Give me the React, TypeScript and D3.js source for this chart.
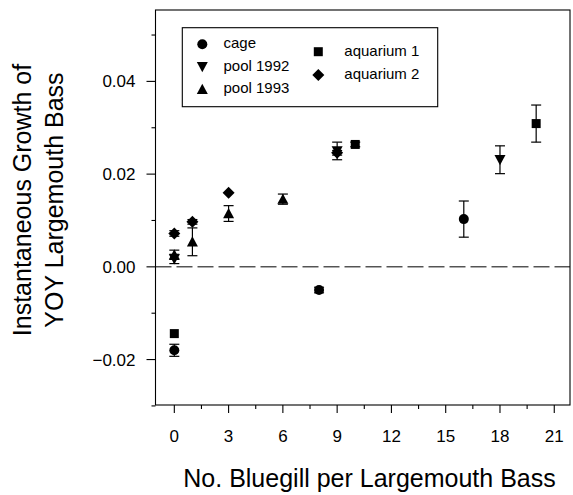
import React from "react";
import * as d3 from "d3";

// ---- data ----
const seriesNames = ["cage", "pool 1992", "pool 1993", "aquarium 1", "aquarium 2"];
const cageX = [0, 8, 16];
const cageY = [-0.018, -0.005, 0.0103];
const cageErr = [0.0013, 0.0006, 0.0039];
const pool1992X = [0, 9, 18];
const pool1992Y = [0.0017, 0.025, 0.0231];
const pool1992Err = [0.001, 0.0019, 0.003];
const pool1993X = [0, 1, 3, 6];
const pool1993Y = [0.0026, 0.0054, 0.0115, 0.0146];
const pool1993Err = [0.001, 0.003, 0.0017, 0.0011];
const aquarium1X = [0, 10, 20];
const aquarium1Y = [-0.0144, 0.0264, 0.0309];
const aquarium1Err = [0, 0.0005, 0.004];
const aquarium2X = [0, 1, 3, 9];
const aquarium2Y = [0.0072, 0.0097, 0.016, 0.0246];
const aquarium2Err = [0.0006, 0.0005, 0, 0.0005];
const xTicks = [0, 3, 6, 9, 12, 15, 18, 21];
const xMinorTicks = [1.5, 4.5, 7.5, 10.5, 13.5, 16.5, 19.5];
const yTicks = [-0.02, 0.0, 0.02, 0.04];
const yMinorTicks = [-0.03, -0.01, 0.01, 0.03, 0.05];

const W = 573;
const H = 495;
const left = 155.5, right = 570, top = 10, bottom = 405;

const x = d3.scaleLinear().domain([-1.04, 21.87]).range([left, right]);
const y = d3.scaleLinear().domain([-0.0298, 0.0554]).range([bottom, top]);

// custom symbol types (size = full width in px)
const sym = {
  circle: { draw(ctx: any, s: number) { const r = s / 2; ctx.moveTo(r, 0); ctx.arc(0, 0, r, 0, 2 * Math.PI); } },
  square: { draw(ctx: any, s: number) { const h = s / 2; ctx.rect(-h, -h, s, s); } },
  triUp: { draw(ctx: any, s: number) { const h = s / 2; ctx.moveTo(0, -h); ctx.lineTo(h, h * 0.85); ctx.lineTo(-h, h * 0.85); ctx.closePath(); } },
  triDown: { draw(ctx: any, s: number) { const h = s / 2; ctx.moveTo(0, h); ctx.lineTo(h, -h * 0.85); ctx.lineTo(-h, -h * 0.85); ctx.closePath(); } },
  diamond: { draw(ctx: any, s: number) { const h = s / 2; ctx.moveTo(0, -h); ctx.lineTo(h, 0); ctx.lineTo(0, h); ctx.lineTo(-h, 0); ctx.closePath(); } },
};

const series = [
  { name: seriesNames[0], xs: cageX, ys: cageY, es: cageErr, type: sym.circle, size: 10 },
  { name: seriesNames[1], xs: pool1992X, ys: pool1992Y, es: pool1992Err, type: sym.triDown, size: 11 },
  { name: seriesNames[2], xs: pool1993X, ys: pool1993Y, es: pool1993Err, type: sym.triUp, size: 11 },
  { name: seriesNames[3], xs: aquarium1X, ys: aquarium1Y, es: aquarium1Err, type: sym.square, size: 9 },
  { name: seriesNames[4], xs: aquarium2X, ys: aquarium2Y, es: aquarium2Err, type: sym.diamond, size: 12 },
];

const symPath = (t: any, s: number) => d3.symbol().type(t).size(s)() as string;

const legendPos = [
  { x: 202.3, y: 44.3, tx: 223.5 },
  { x: 202.3, y: 66.7, tx: 223.5 },
  { x: 202.3, y: 89.3, tx: 223.5 },
  { x: 318.3, y: 51.7, tx: 344.3 },
  { x: 318.3, y: 75, tx: 344.3 },
];

export default function App() {
  const font = "'Liberation Sans', Arial, Helvetica, sans-serif";
  const capW = 5;
  return (
    <svg width={W} height={H} style={{ position: "absolute", left: 0, top: 0 }} fontFamily={font}>
      <rect x={0} y={0} width={W} height={H} fill="#fff" />
      {/* frame */}
      <rect x={left} y={top} width={right - left} height={bottom - top} fill="none" stroke="#000" strokeWidth={1.1} />
      {/* zero dashed line */}
      <line x1={left} x2={right} y1={y(0)} y2={y(0)} stroke="#000" strokeWidth={1} strokeDasharray="16,5" />
      {/* y ticks */}
      {yTicks.map((t) => (
        <g key={"yt" + t}>
          <line x1={left - 9} x2={left} y1={y(t)} y2={y(t)} stroke="#000" strokeWidth={1.1} />
          <text x={135.5} y={y(t) + 6} textAnchor="end" fontSize={17}>{d3.format(".2f")(t)}</text>
        </g>
      ))}
      {yMinorTicks.map((t) => (
        <line key={"ym" + t} x1={left - 4} x2={left} y1={y(t)} y2={y(t)} stroke="#000" strokeWidth={1.1} />
      ))}
      {/* x ticks */}
      {xTicks.map((t) => (
        <g key={"xt" + t}>
          <line x1={x(t)} x2={x(t)} y1={bottom} y2={bottom + 8} stroke="#000" strokeWidth={1.1} />
          <text x={x(t)} y={441.5} textAnchor="middle" fontSize={17}>{t}</text>
        </g>
      ))}
      {xMinorTicks.map((t) => (
        <line key={"xm" + t} x1={x(t)} x2={x(t)} y1={bottom} y2={bottom + 4} stroke="#000" strokeWidth={1.1} />
      ))}
      {/* axis labels */}
      <text x={369.5} y={486.5} textAnchor="middle" fontSize={25}>No. Bluegill per Largemouth Bass</text>
      <g transform={`translate(30.5, 200) rotate(-90)`}>
        <text x={0} y={0} textAnchor="middle" fontSize={25}>Instantaneous Growth of</text>
        <text x={0} y={32.5} textAnchor="middle" fontSize={25}>YOY Largemouth Bass</text>
      </g>
      {/* error bars and points */}
      {series.map((s) => (
        <g key={s.name}>
          {s.xs.map((xv, i) => {
            const e = s.es[i];
            const cx = x(xv), cy = y(s.ys[i]);
            return (
              <g key={i}>
                {e > 0 && (
                  <g stroke="#000" strokeWidth={1.2}>
                    <line x1={cx} x2={cx} y1={y(s.ys[i] - e)} y2={y(s.ys[i] + e)} />
                    <line x1={cx - capW} x2={cx + capW} y1={y(s.ys[i] - e)} y2={y(s.ys[i] - e)} />
                    <line x1={cx - capW} x2={cx + capW} y1={y(s.ys[i] + e)} y2={y(s.ys[i] + e)} />
                  </g>
                )}
                <path d={symPath(s.type, s.size)} transform={`translate(${cx},${cy})`} fill="#000" />
              </g>
            );
          })}
        </g>
      ))}
      {/* legend */}
      <rect x={182.3} y={27.7} width={255.4} height={79} fill="#fff" stroke="#000" strokeWidth={1.1} />
      {series.map((s, i) => (
        <g key={"lg" + s.name}>
          <path d={symPath(s.type, s.size)} transform={`translate(${legendPos[i].x},${legendPos[i].y})`} fill="#000" />
          <text x={legendPos[i].tx} y={legendPos[i].y + 4} fontSize={15}>{s.name}</text>
        </g>
      ))}
    </svg>
  );
}
